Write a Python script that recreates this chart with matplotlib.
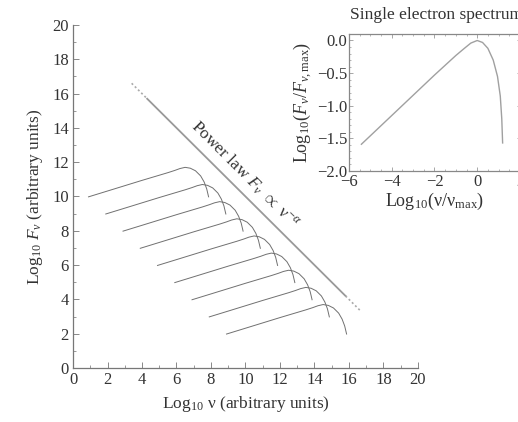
import matplotlib
matplotlib.use("Agg")
import matplotlib.pyplot as plt
import numpy as np

plt.rcParams['font.family'] = ['Liberation Serif', 'DejaVu Serif']
plt.rcParams['mathtext.fontset'] = 'custom'
plt.rcParams['mathtext.rm'] = 'Liberation Serif'
plt.rcParams['mathtext.it'] = 'Liberation Serif:italic'
plt.rcParams['mathtext.bf'] = 'Liberation Serif:bold'

# Shape of one spectrum relative to its peak
shape_dx = [-5.6, -4.5, -3.5, -2.5, -1.5, -1.0, -0.6, -0.3, 0.0, 0.3, 0.6, 0.9, 1.1, 1.25, 1.36]
shape_dy = [-1.72, -1.38, -1.07, -0.76, -0.46, -0.31, -0.18, -0.07, 0.0, -0.05, -0.20, -0.50, -0.85, -1.25, -1.72]

# Peak positions of the 9 electron spectra
peak_x = [6.5, 7.5, 8.5, 9.5, 10.5, 11.5, 12.5, 13.5, 14.5]
peak_y = [11.7, 10.7, 9.7, 8.7, 7.7, 6.7, 5.7, 4.7, 3.7]

# Power-law envelope
pl_x = [4.3, 15.8]
pl_y = [15.7, 4.2]
pl_dot_lo_x = [3.4, 4.3]
pl_dot_lo_y = [16.6, 15.7]
pl_dot_hi_x = [15.8, 16.7]
pl_dot_hi_y = [4.2, 3.3]

# Inset: single electron spectrum
inset_x = [-5.42, -5.0, -4.0, -3.0, -2.0, -1.5, -1.0, -0.6, -0.3, 0.0, 0.25, 0.5, 0.75, 0.95, 1.08, 1.15, 1.19]
inset_y = [-1.59, -1.46, -1.15, -0.84, -0.53, -0.38, -0.23, -0.12, -0.04, 0.0, -0.03, -0.12, -0.30, -0.55, -0.85, -1.2, -1.57]

fig = plt.figure(figsize=(5.18, 4.22), dpi=100)
tc = '#333333'

ax = fig.add_axes([73/518, 1-368/422, 345/518, 343/422])
for px, py in zip(peak_x, peak_y):
    xs = [px + d for d in shape_dx]
    ys = [py + d for d in shape_dy]
    ax.plot(xs, ys, color='#707070', lw=0.7)
ax.plot(pl_x, pl_y, color='#999999', lw=1.3)
ax.plot(pl_dot_lo_x, pl_dot_lo_y, color='#aaaaaa', lw=1.2, ls=(0, (1.2, 1.5)))
ax.plot(pl_dot_hi_x, pl_dot_hi_y, color='#aaaaaa', lw=1.2, ls=(0, (1.2, 1.5)))
ax.text(9.95, 11.25, r'Power law $F_{\nu}$ $\propto$ ν$^{-\alpha}$', rotation=-45,
        rotation_mode='anchor', ha='center', va='center', fontsize=12.5, color=tc)

ax.set_xlim(0, 20)
ax.set_ylim(0, 20)
ax.spines['top'].set_visible(False)
ax.spines['right'].set_visible(False)
for s in ['left', 'bottom']:
    ax.spines[s].set_color('#777777')
    ax.spines[s].set_linewidth(0.9)
ax.set_xticks(np.arange(0, 21, 2))
ax.set_yticks(np.arange(0, 21, 2))
ax.set_xticks(np.arange(0, 21, 1), minor=True)
ax.set_yticks(np.arange(0, 21, 1), minor=True)
ax.tick_params(which='both', direction='in', colors='#888888', labelcolor=tc, labelsize=12)
ax.tick_params(which='major', length=4, width=0.7)
ax.tick_params(which='minor', length=2.5, width=0.6)
ax.tick_params(axis='x', pad=3)
ax.tick_params(axis='y', pad=3)
ax.set_xlabel(r'Log$_{10}$ ν (arbitrary units)', fontsize=12.5, color=tc, labelpad=4)
ax.set_ylabel(r'Log$_{10}$ $F_{\nu}$ (arbitrary units)', fontsize=12.5, color=tc, labelpad=5)

ins = fig.add_axes([349/518, 1-171/422, 172/518, 136.7/422])
ins.plot(inset_x, inset_y, color='#a0a0a0', lw=1.0)
ins.set_xlim(-6, 2.05)
ins.set_ylim(-2.0, 0.095)
ins.set_xticks([-6, -4, -2, 0, 2])
ins.set_yticks([0.0, -0.5, -1.0, -1.5, -2.0])
ins.set_yticklabels(['0.0', '\u22120.5', '\u22121.0', '\u22121.5', '\u22122.0'])
ins.set_xticklabels(['\u22126', '\u22124', '\u22122', '0', '2'])
ins.set_xticks(np.arange(-6, 2.1, 0.5), minor=True)
ins.set_yticks(np.arange(-2.0, 0.01, 0.1), minor=True)
for s in ins.spines.values():
    s.set_color('#888888')
    s.set_linewidth(0.9)
ins.tick_params(which='both', direction='in', top=True, right=True, colors='#999999',
                labelcolor=tc, labelsize=12)
ins.tick_params(which='major', length=3, width=0.6)
ins.tick_params(which='minor', length=1.5, width=0.5)
ins.tick_params(axis='x', pad=2)
ins.tick_params(axis='y', pad=1)
ins.set_xlabel(r'Log$_{10}$(ν/ν$_{\mathrm{max}}$)', fontsize=13, color=tc, labelpad=1)
ins.set_ylabel(r'Log$_{10}$($F_{\nu}$/$F_{\nu,\mathrm{max}}$)', fontsize=13, color=tc, labelpad=2)
fig.text(350/518, 1-15/422, 'Single electron spectrum', fontsize=12.5, color=tc, ha='left', va='center')

fig.savefig('out.png', dpi=100)
